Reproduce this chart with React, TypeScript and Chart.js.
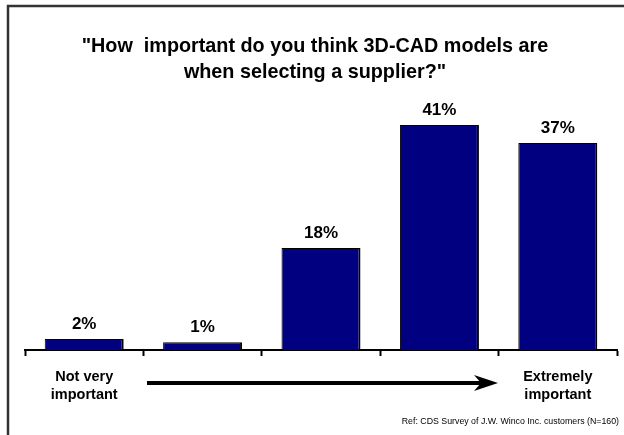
import React, { useEffect, useRef } from "react";
import { Chart, registerables } from "chart.js";

Chart.register(...registerables);

const categories: (string | string[])[] = [["Not very", "important"], "", "", "", ["Extremely", "important"]];
const values = [2.0, 1.4, 18.6, 41, 37.7];
const valueLabels = ["2%", "1%", "18%", "41%", "37%"];
const titleLines = ['"How  important do you think 3D-CAD models are', 'when selecting a supplier?"'];
const footnote = "Ref: CDS Survey of J.W. Winco Inc. customers (N=160)";

const FONT = "'Liberation Sans', Arial, Helvetica, sans-serif";

const decorPlugin = {
  id: "decor",
  beforeDraw(chart: any) {
    const ctx = chart.ctx;
    ctx.save();
    ctx.fillStyle = "#ffffff";
    ctx.fillRect(0, 0, chart.width, chart.height);
    // frame
    ctx.strokeStyle = "#333333";
    ctx.lineWidth = 2.5;
    ctx.beginPath();
    ctx.moveTo(8, chart.height + 5);
    ctx.lineTo(8, 6);
    ctx.lineTo(chart.width + 5, 6);
    ctx.stroke();
    // title
    ctx.fillStyle = "#000000";
    ctx.font = `bold 19.8px ${FONT}`;
    ctx.textAlign = "center";
    ctx.textBaseline = "middle";
    titleLines.forEach((t, i) => ctx.fillText(t, 315, 47 + i * 26));
    ctx.restore();
  },
  afterDraw(chart: any) {
    const ctx = chart.ctx;
    const meta = chart.getDatasetMeta(0);
    ctx.save();
    // value labels
    ctx.fillStyle = "#000000";
    ctx.font = `bold 17px ${FONT}`;
    ctx.textAlign = "center";
    ctx.textBaseline = "middle";
    meta.data.forEach((bar: any, i: number) => {
      ctx.fillText(valueLabels[i], bar.x, bar.y - 15);
    });
    // arrow
    const y = 383;
    const x0 = 147;
    const x1 = 498;
    ctx.strokeStyle = "#000000";
    ctx.lineWidth = 4;
    ctx.beginPath();
    ctx.moveTo(x0, y);
    ctx.lineTo(x1 - 12, y);
    ctx.stroke();
    ctx.beginPath();
    ctx.moveTo(x1, y);
    ctx.lineTo(x1 - 24, y - 8);
    ctx.lineTo(x1 - 17, y);
    ctx.lineTo(x1 - 24, y + 8);
    ctx.closePath();
    ctx.fill();
    // footnote
    ctx.font = `8.8px ${FONT}`;
    ctx.textAlign = "right";
    ctx.fillText(footnote, 619, 422);
    ctx.restore();
  },
};

export default function App() {
  const ref = useRef<HTMLCanvasElement>(null);
  useEffect(() => {
    document.body.style.margin = "0";
    const chart = new Chart(ref.current!, {
      type: "bar",
      data: {
        labels: categories,
        datasets: [
          {
            data: values,
            backgroundColor: "#000080",
            borderColor: "#000000",
            borderWidth: { top: 1, left: 1, right: 2, bottom: 0 },
            borderSkipped: "bottom",
            barPercentage: 0.667,
            categoryPercentage: 1,
          },
        ],
      },
      options: {
        animation: false,
        responsive: true,
        maintainAspectRatio: false,
        layout: { padding: { left: 25, right: 7, top: 103, bottom: 0 } },
        plugins: {
          legend: { display: false },
          title: { display: false },
          tooltip: { enabled: false },
        },
        scales: {
          y: { display: false, min: 0, max: 45 },
          x: {
            afterFit: (scale: any) => {
              scale.height = 85;
            },
            border: { display: true, color: "#000000", width: 2 },
            grid: {
              display: true,
              drawOnChartArea: false,
              drawTicks: true,
              tickLength: 6,
              tickWidth: 2,
              tickColor: "#000000",
              offset: true,
            },
            ticks: {
              color: "#000000",
              padding: 12,
              maxRotation: 0,
              autoSkip: false,
              font: { family: FONT, size: 14.5, weight: "bold", lineHeight: 1.25 },
            },
          },
        },
      },
      plugins: [decorPlugin],
    });
    return () => chart.destroy();
  }, []);
  return (
    <div style={{ position: "absolute", left: 0, top: 0, width: 624, height: 435 }}>
      <canvas ref={ref} />
    </div>
  );
}
